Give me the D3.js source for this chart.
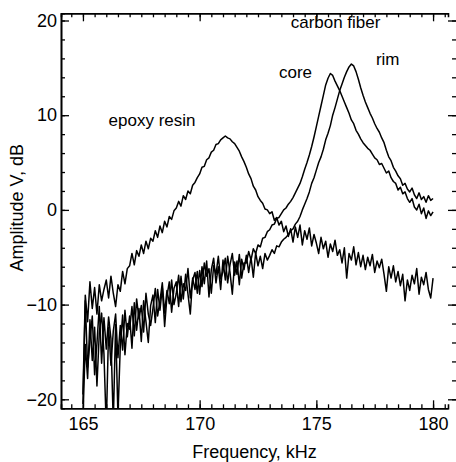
<!DOCTYPE html>
<html>
<head>
<meta charset="utf-8">
<script src="https://cdn.jsdelivr.net/npm/d3@7"></script>
<style>
  body { margin: 0; background: #fff; }
  svg { display: block; font-family: "Liberation Sans", Arial, sans-serif; }
</style>
</head>
<body>
<div id="chart"></div>
<script>
// sampling grid, kHz (0.1 kHz steps, 165 .. 180)
var freqs = d3.range(0, 151).map(function (i) { return +(165 + i * 0.1).toFixed(1); });

// amplitude, dB
var epoxyResin = [
    -19.5, -9.0, -11.8, -7.6, -10.4, -8.2, -11.0, -7.9, -9.6, -8.4,
    -7.4, -9.3, -7.0, -8.8, -10.2, -7.9, -8.6, -6.5, -7.8, -6.2,
    -5.9, -4.6, -5.8, -4.3, -4.9, -3.7, -4.6, -3.3, -4.1, -3.0,
    -3.3, -2.2, -2.9, -1.7, -2.4, -1.2, -1.8, -0.7, -1.0, -0.1,
    0.2, 0.9, 0.4, 1.5, 1.1, 2.0, 1.7, 2.6, 2.9, 3.4,
    3.8, 4.5, 4.6, 5.3, 5.5, 6.1, 6.3, 6.9, 7.0, 7.4,
    7.6, 7.8, 7.6, 7.5, 7.2, 7.0, 6.6, 6.2, 5.6, 5.1,
    4.5, 3.8, 3.3, 2.5, 2.1, 1.4, 1.0, 0.7, 0.1, 0.0,
    -0.4, -0.2, -1.1, -0.8, -1.6, -1.2, -2.3, -1.7, -2.8, -2.0,
    -3.4, -1.8, -2.9, -1.6, -3.7, -2.2, -3.1, -1.9, -3.8, -2.6,
    -3.5, -4.6, -2.9, -4.1, -3.3, -5.0, -3.6, -4.4, -3.2, -4.8,
    -4.2, -5.6, -4.0, -7.2, -4.6, -5.3, -3.9, -5.8, -4.5, -6.0,
    -4.8, -6.3, -5.0, -5.9, -4.7, -6.6, -5.4, -6.1, -5.2, -6.8,
    -8.6, -6.0, -7.2, -5.9, -7.6, -6.5, -8.0, -6.8, -9.6, -7.4,
    -8.5, -6.9, -7.8, -6.2, -8.9, -7.1, -7.9, -6.6, -8.4, -9.3,
    -7.2
];

var carbonCore = [
    -22.0, -14.2, -17.8, -11.6, -15.9, -12.4, -18.6, -13.0, -10.9, -15.2,
    -23.0, -12.4, -16.4, -12.8, -11.0, -15.6, -12.2, -14.8, -10.6, -13.4,
    -11.2, -14.6, -9.8, -12.7, -10.4, -13.9, -9.6, -11.8, -14.0, -10.1,
    -9.0, -11.9, -8.4, -10.6, -8.2, -12.3, -9.1, -7.6, -10.8, -8.3,
    -7.6, -10.2, -7.0, -9.4, -6.8, -8.9, -11.0, -7.2, -8.4, -6.5,
    -8.9, -6.0, -7.8, -5.4, -9.2, -6.3, -5.1, -7.7, -6.0, -8.4,
    -5.3, -7.4, -4.9, -6.6, -8.9, -5.5, -6.8, -4.7, -7.2, -5.6,
    -5.6, -4.4, -5.3, -4.1, -4.6, -3.7, -3.9, -3.0, -2.9, -2.3,
    -2.1, -1.6, -1.5, -0.9, -0.8, -0.4, 0.0, 0.2, 0.6, 0.9,
    1.3, 1.8, 2.3, 2.8, 3.5, 4.3, 5.0, 5.8, 6.7, 7.7,
    8.8, 9.9, 11.0, 12.1, 13.2, 13.9, 14.4, 14.2, 13.6, 13.1,
    12.6, 12.0, 11.4, 10.8, 10.2, 9.5, 9.1, 8.4, 8.0, 7.5,
    7.1, 6.8, 6.5, 6.3, 5.9, 5.5, 5.3, 4.8, 4.9, 4.4,
    3.9, 4.1, 3.4, 3.0, 2.8, 2.1, 2.4, 1.7, 1.9, 1.2,
    0.8, 1.2, 0.3, 0.0, 0.6, -0.4, 0.2, -0.9, -0.1, -0.6,
    -0.2
];

var carbonRim = [
    -20.5, -9.6, -16.6, -13.9, -11.2, -17.4, -14.1, -10.2, -16.2, -11.4,
    -14.7, -11.3, -13.6, -22.5, -12.1, -21.8, -14.4, -11.1, -15.3, -12.0,
    -12.6, -10.2, -13.3, -9.4, -11.5, -10.1, -12.9, -8.8, -11.0, -12.2,
    -10.4, -8.3, -11.2, -9.6, -7.7, -10.9, -8.5, -9.9, -7.4, -10.0,
    -8.8, -6.9, -9.7, -7.8, -8.5, -6.2, -9.3, -7.4, -6.6, -8.8,
    -6.4, -8.1, -5.6, -7.0, -6.2, -8.8, -5.9, -6.8, -4.9, -7.3,
    -6.5, -5.1, -7.7, -5.8, -4.6, -6.9, -5.4, -7.9, -5.2, -6.3,
    -4.8, -6.6, -5.0, -7.1, -4.5, -5.9, -4.9, -6.2, -4.6, -5.3,
    -4.8, -4.2, -4.6, -3.8, -3.9, -3.4, -3.1, -2.9, -2.6, -2.2,
    -2.0, -1.5, -1.2, -0.7, 0.0, 0.6, 1.2, 1.9, 2.8, 3.4,
    4.2, 5.0, 5.6, 6.4, 7.4, 8.1, 8.9, 10.0, 10.8, 11.7,
    12.6, 13.3, 14.0, 14.6, 15.1, 15.4, 15.2, 14.6, 13.8, 12.9,
    12.1, 11.4, 10.8, 10.2, 9.7, 9.1, 8.6, 8.2, 7.6, 7.1,
    6.3, 5.6, 5.2, 4.5, 4.1, 3.6, 3.3, 2.6, 2.8, 2.2,
    1.9, 2.3, 1.6, 1.2, 1.8, 1.1, 1.4, 0.8, 1.5, 1.0,
    1.2
];

var xMajorTicks = [165, 170, 175, 180];
var yMajorTicks = [-20, -10, 0, 10, 20];

var labels = [
    { text: "carbon fiber", f: 173.9, v: 19.2 },
    { text: "core", f: 173.4, v: 13.9 },
    { text: "rim", f: 177.55, v: 15.3 },
    { text: "epoxy resin", f: 166.1, v: 8.9 }
];

/*********************************************************************/
var W = 456, H = 462;
var plotLeft = 61, plotRight = 448, plotTop = 13.3, plotBottom = 408.3;

var svg = d3.select("#chart").append("svg")
    .attr("width", W)
    .attr("height", H);

svg.append("rect").attr("width", W).attr("height", H).attr("fill", "#fff");

var xScale = d3.scaleLinear()
    .domain([164.06, 180.64])
    .range([plotLeft, plotRight]);

var yScale = d3.scaleLinear()
    .domain([-20.95, 20.76])
    .range([plotBottom, plotTop]);

svg.append("clipPath").attr("id", "plot-clip")
    .append("rect")
    .attr("x", plotLeft).attr("y", plotTop)
    .attr("width", plotRight - plotLeft).attr("height", plotBottom - plotTop);

// curves
var line = d3.line()
    .x(function (d) { return xScale(d[0]); })
    .y(function (d) { return yScale(d[1]); });

[epoxyResin, carbonCore, carbonRim].forEach(function (series) {
    svg.append("path")
        .datum(freqs.map(function (f, i) { return [f, series[i]]; }))
        .attr("clip-path", "url(#plot-clip)")
        .attr("fill", "none")
        .attr("stroke", "#000")
        .attr("stroke-width", 1.5)
        .attr("stroke-linejoin", "round")
        .attr("d", line);
});

// axes, ticks pointing inward on all four sides
var xMinor = d3.range(329, 362).map(function (k) { return k / 2; });
var yMinor = d3.range(-20, 21, 2);

function styleAxis(g) {
    g.selectAll("path").attr("stroke", "#000").attr("stroke-width", 1.6);
    g.selectAll("line").attr("stroke", "#000").attr("stroke-width", 1.3);
    g.selectAll("text").attr("fill", "#000").attr("font-family", "Liberation Sans, Arial, sans-serif");
}

var xb = svg.append("g")
    .attr("transform", "translate(0," + plotBottom + ")")
    .call(d3.axisBottom(xScale).tickValues(xMajorTicks).tickSizeInner(-8).tickSizeOuter(0).tickPadding(0))
    .call(styleAxis);
xb.selectAll("text").attr("font-size", 18).attr("y", 22).attr("dy", 0);

svg.append("g")
    .attr("transform", "translate(0," + plotBottom + ")")
    .call(d3.axisBottom(xScale).tickValues(xMinor).tickSize(-4).tickFormat(""))
    .call(styleAxis);

svg.append("g")
    .attr("transform", "translate(0," + plotTop + ")")
    .call(d3.axisTop(xScale).tickValues(xMajorTicks).tickSizeInner(-8).tickSizeOuter(0).tickFormat(""))
    .call(styleAxis);

svg.append("g")
    .attr("transform", "translate(0," + plotTop + ")")
    .call(d3.axisTop(xScale).tickValues(xMinor).tickSize(-4).tickFormat(""))
    .call(styleAxis);

var yl = svg.append("g")
    .attr("transform", "translate(" + plotLeft + ",0)")
    .call(d3.axisLeft(yScale).tickValues(yMajorTicks).tickSizeInner(-8).tickSizeOuter(0).tickPadding(4))
    .call(styleAxis);
yl.selectAll("text").attr("font-size", 18);

svg.append("g")
    .attr("transform", "translate(" + plotLeft + ",0)")
    .call(d3.axisLeft(yScale).tickValues(yMinor).tickSize(-4).tickFormat(""))
    .call(styleAxis);

// right side: only the inward ticks show, the frame line sits off the edge
var yr = svg.append("g")
    .attr("transform", "translate(" + W + ",0)")
    .call(d3.axisRight(yScale).tickValues(yMajorTicks).tickSize(-8).tickFormat(""))
    .call(styleAxis);
yr.select(".domain").remove();

var yr2 = svg.append("g")
    .attr("transform", "translate(" + W + ",0)")
    .call(d3.axisRight(yScale).tickValues(yMinor).tickSize(-4).tickFormat(""))
    .call(styleAxis);
yr2.select(".domain").remove();

// axis titles
svg.append("text")
    .attr("x", (plotLeft + plotRight) / 2)
    .attr("y", 458)
    .attr("text-anchor", "middle")
    .attr("font-size", 18)
    .text("Frequency, kHz");

svg.append("text")
    .attr("transform", "translate(23," + ((plotTop + plotBottom) / 2 - 3) + ") rotate(-90)")
    .attr("text-anchor", "middle")
    .attr("font-size", 18)
    .text("Amplitude V, dB");

// curve labels
svg.selectAll(".curve-label")
    .data(labels)
    .enter().append("text")
    .attr("class", "curve-label")
    .attr("x", function (d) { return xScale(d.f); })
    .attr("y", function (d) { return yScale(d.v); })
    .attr("font-size", 17)
    .text(function (d) { return d.text; });
</script>
</body>
</html>
